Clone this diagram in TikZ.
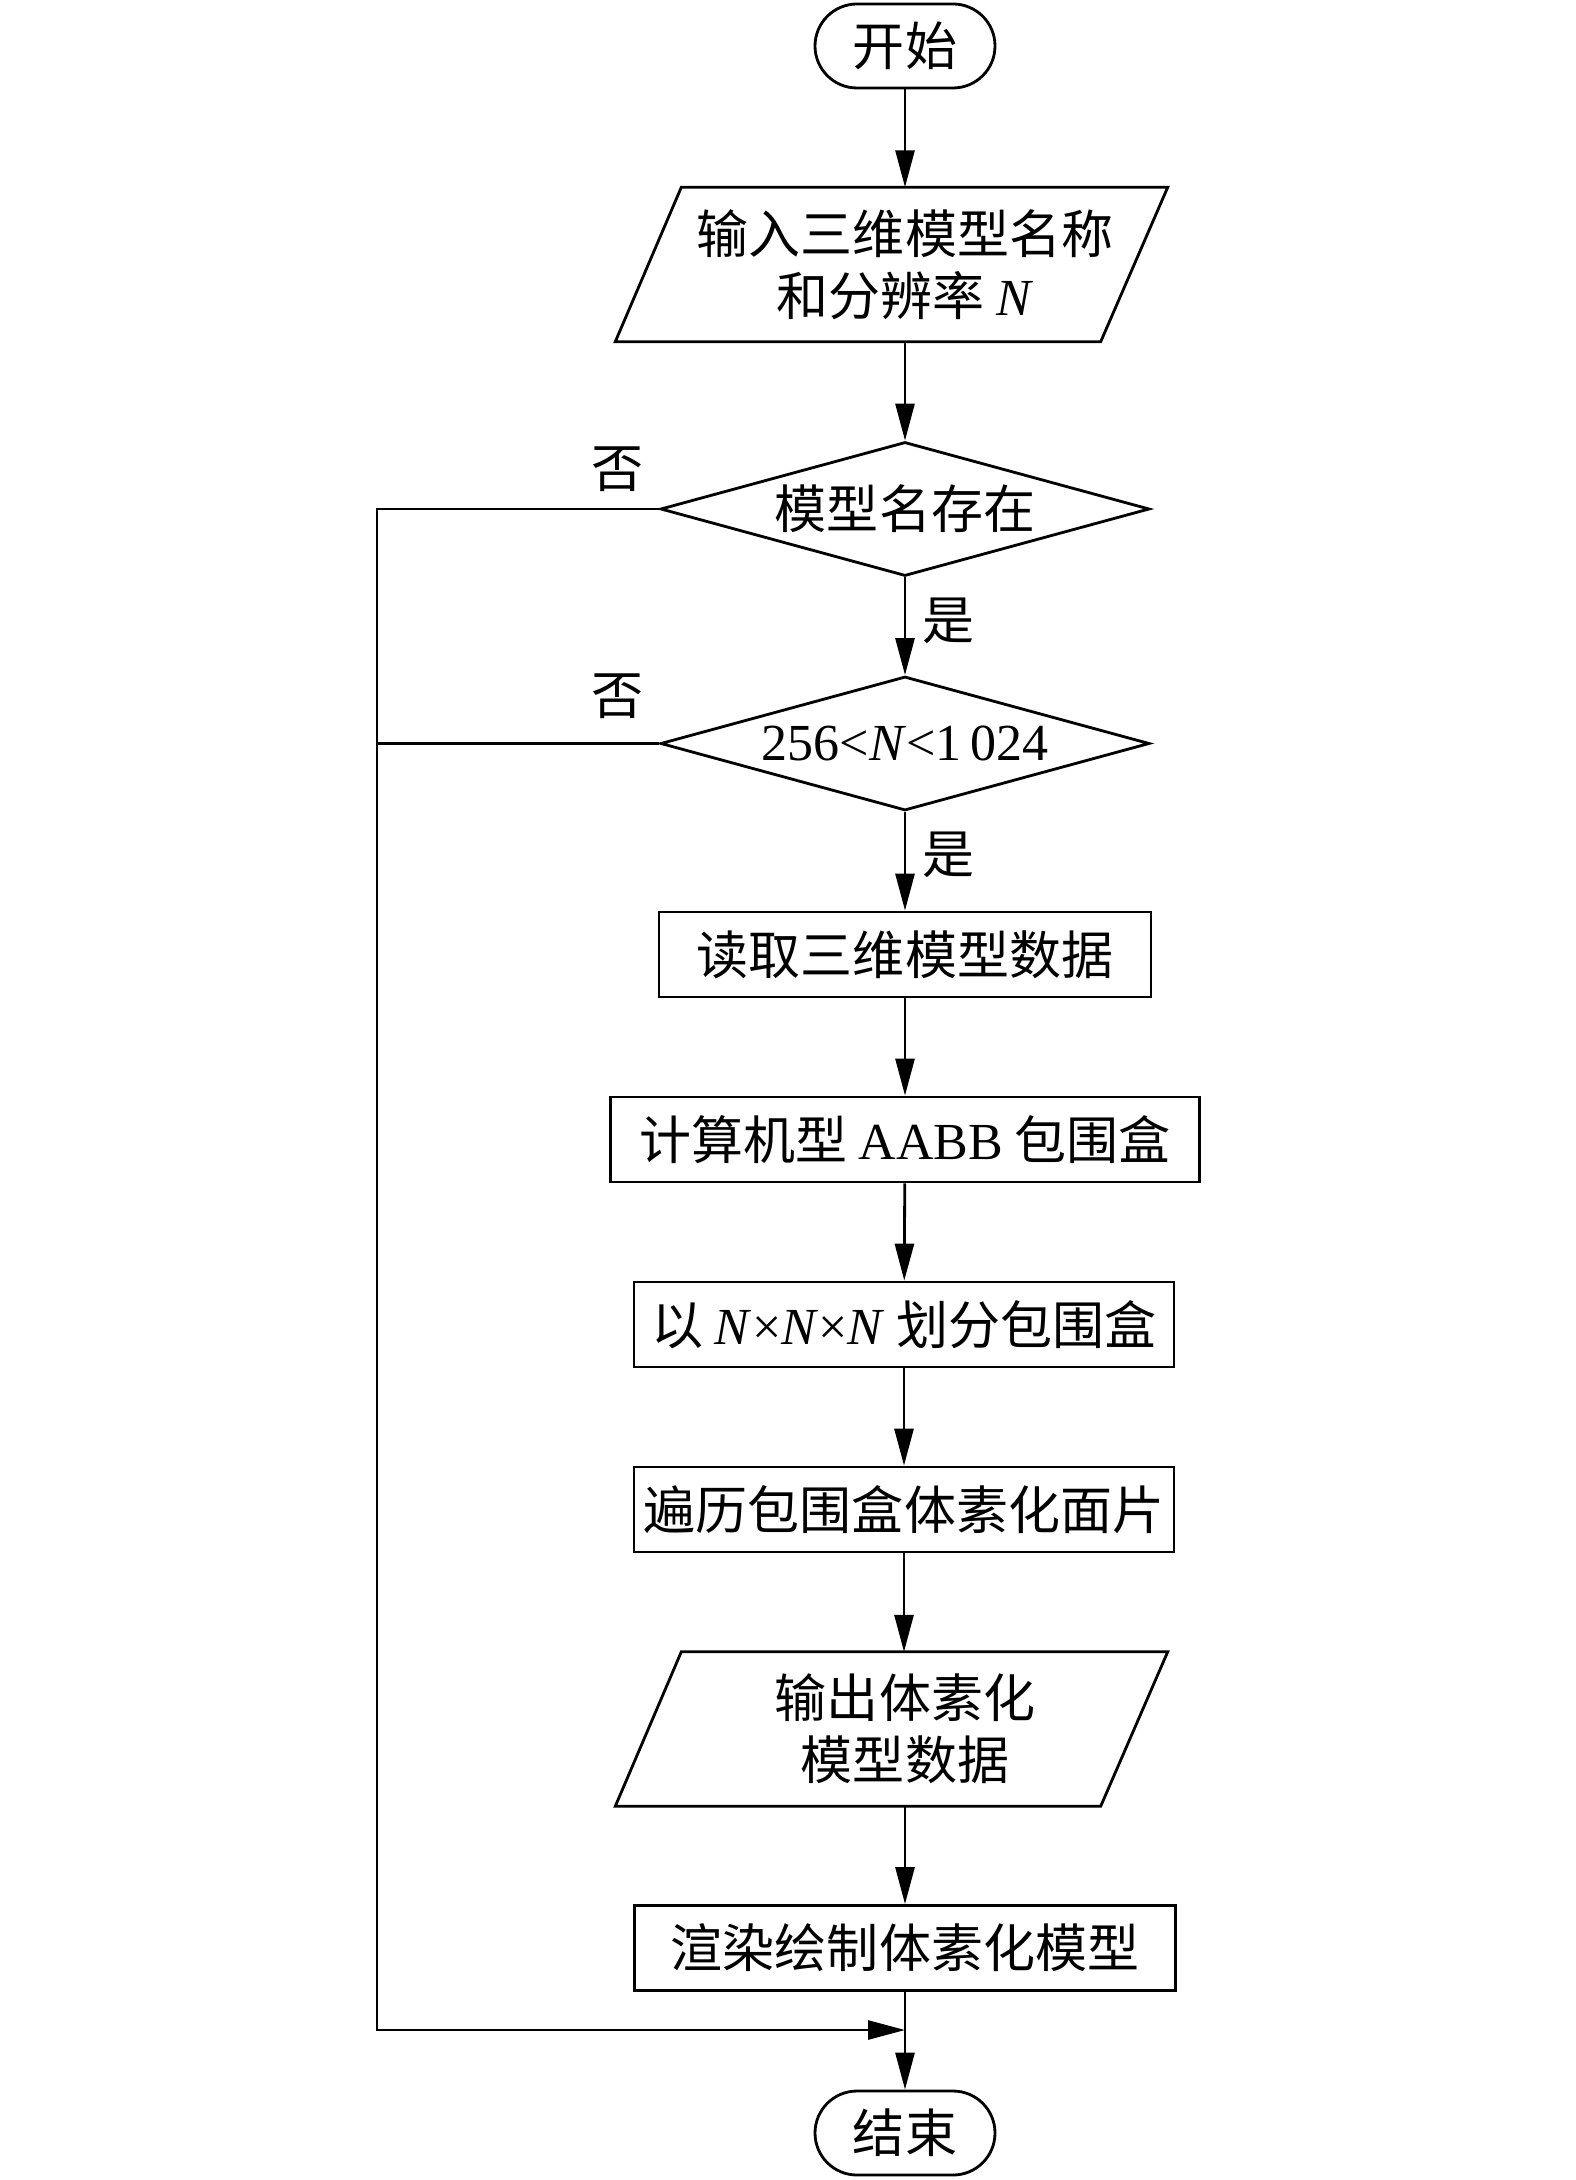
\documentclass[tikz,border=0pt]{standalone}
\usepackage{fontspec}
\setmainfont{Noto Sans CJK SC}
\newfontfamily\tnr{Liberation Serif}
\usetikzlibrary{shapes.geometric, arrows.meta, positioning}

\tikzset{
  every node/.style={font=\fontsize{14.8pt}{17.6pt}\selectfont},
  line/.style={line width=0.8pt},
  arr/.style={line width=0.8pt, -{Triangle[length=3.7mm, width=1.9mm]}},
  terminal/.style={draw, line width=0.8pt, rectangle, rounded corners=4.2mm, minimum width=1.8cm, minimum height=0.84cm, inner sep=0},
  proc/.style={draw, line width=0.8pt, rectangle, minimum height=0.85cm, inner sep=0},
  io/.style={rectangle, minimum width=4.84cm, minimum height=1.53cm, inner sep=0, align=center},
  decision/.style={draw, line width=0.8pt, diamond, shape aspect=3.65, minimum width=4.89cm, minimum height=1.34cm, inner sep=0}
}

\begin{document}
\begin{tikzpicture}
\useasboundingbox (0,0) rectangle (15.75,-21.80);

% main column
\node[terminal] (start) at (9.05,-0.46) {开始};
\node[io] (in1) at (9.05,-2.645) {输入三维模型名称\\和分辨率 {\tnr\textit{N}}};
\node[decision] (dia1) at (9.05,-5.09) {模型名存在};
\node[decision] (dia2) at (9.05,-7.435) {\tnr 256<\textit{N}<1\,024};
\node[proc, minimum width=4.92cm] (read) at (9.05,-9.545) {读取三维模型数据};
\node[proc, minimum width=5.89cm] (aabb) at (9.05,-11.395) {计算机型 {\tnr AABB} 包围盒};
\node[proc, minimum width=5.40cm] (split) at (9.04,-13.245) {以 {\tnr\textit{N}×\textit{N}×\textit{N}} 划分包围盒};
\node[proc, minimum width=5.40cm] (trav) at (9.04,-15.095) {遍历包围盒体素化面片};
\node[io] (out) at (9.05,-17.29) {输出体素化\\模型数据};
\node[proc, minimum width=5.41cm] (rend) at (9.05,-19.48) {渲染绘制体素化模型};
\node[terminal] (end) at (9.05,-21.33) {结束};

% parallelograms round the io nodes
\draw[line] ([xshift=-4.7mm]in1.south west) -- ([xshift=1.9mm]in1.north west)
  -- ([xshift=2mm]in1.north east) -- ([xshift=-4.7mm]in1.south east) -- cycle;
\draw[line] ([xshift=-4.7mm]out.south west) -- ([xshift=1.9mm]out.north west)
  -- ([xshift=2mm]out.north east) -- ([xshift=-4.7mm]out.south east) -- cycle;

% branch labels
\node (no1) at (6.17,-4.69) {否};
\node (no2) at (6.17,-6.96) {否};
\node (yes1) at (9.48,-6.21) {是};
\node (yes2) at (9.48,-8.55) {是};

\coordinate (lft) at (3.77,-5.09);
\coordinate (jn) at (9.05,-20.30);

% connectors
\draw[arr] (start) -- (in1.north);
\draw[arr] (in1.south) -- (dia1);
\draw[arr] (dia1) -- (dia2);
\draw[arr] (dia2) -- (read);
\draw[arr] (read) -- (aabb);
\draw[arr] (aabb) -- (split);
\draw[arr] (split) -- (trav);
\draw[arr] (trav) -- (trav |- out.north);
\draw[arr] (out.south) -- (rend);
\draw[arr] (rend) -- (end);
\draw[arr] (dia1.west) -- (lft) |- (jn);
\draw[line] (dia2.west) -- (dia2.west -| lft);

\end{tikzpicture}
\end{document}
